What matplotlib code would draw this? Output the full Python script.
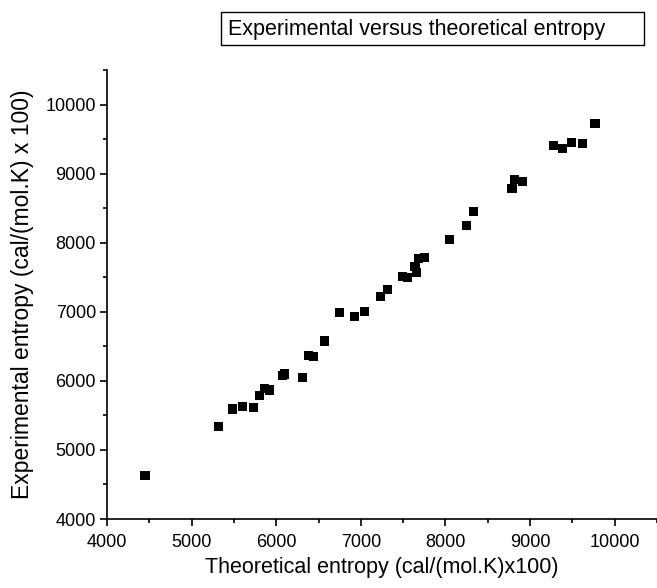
import matplotlib
matplotlib.use("Agg")
import matplotlib.pyplot as plt
from matplotlib.patches import Rectangle
from matplotlib.ticker import MultipleLocator

plt.rcParams['font.family'] = ['Liberation Sans', 'DejaVu Sans']

theoretical = [4450, 5321, 5483, 5601, 5727, 5798, 5865, 5924, 6070, 6100,
               6314, 6377, 6436, 6571, 6752, 6929, 7047, 7233, 7316, 7493,
               7548, 7639, 7658, 7678, 7749, 8052, 8245, 8336, 8786, 8817,
               8912, 9279, 9381, 9487, 9617, 9767]
experimental = [4632, 5336, 5592, 5625, 5616, 5784, 5891, 5867, 6080, 6100,
                6045, 6368, 6349, 6576, 6995, 6927, 7000, 7222, 7323, 7516,
                7497, 7661, 7564, 7772, 7786, 8047, 8254, 8457, 8785, 8915,
                8891, 9412, 9364, 9451, 9436, 9720]

title = "Experimental versus theoretical entropy"
xlabel = "Theoretical entropy (cal/(mol.K)x100)"
ylabel = "Experimental entropy (cal/(mol.K) x 100)"
xticks = [4000, 5000, 6000, 7000, 8000, 9000, 10000]
yticks = [4000, 5000, 6000, 7000, 8000, 9000, 10000]

W, H = 657, 588
fig = plt.figure(figsize=(W / 100, H / 100), dpi=100)
ax = fig.add_axes([107 / W, 1 - 519 / H, 1 - 107 / W, (519 - 70) / H])

ax.scatter(theoretical, experimental, marker='s', s=44, color='black',
           edgecolors='none', zorder=3, clip_on=False)

ax.set_xlim(4000, 10500)
ax.set_ylim(4000, 10500)
ax.set_xticks(xticks)
ax.set_yticks(yticks)
ax.xaxis.set_minor_locator(MultipleLocator(500))
ax.yaxis.set_minor_locator(MultipleLocator(500))
ax.spines['top'].set_visible(False)
ax.spines['right'].set_visible(False)
for s in ['left', 'bottom']:
    ax.spines[s].set_linewidth(1.2)
ax.tick_params(which='major', direction='out', length=5, width=1.2,
               labelsize=13)
ax.tick_params(axis='x', which='major', pad=6)
ax.tick_params(axis='y', which='major', pad=3)
ax.tick_params(which='minor', direction='out', length=3, width=1.2)

ax.set_xlabel(xlabel, fontsize=15.5, labelpad=4)
ax.set_ylabel(ylabel, fontsize=16.5, labelpad=8)

# title box
fig.patches.append(Rectangle((221 / W, 1 - 45 / H), (644 - 221) / W, (45 - 12) / H,
                             transform=fig.transFigure, fill=False,
                             edgecolor='black', linewidth=1.0))
fig.text(228 / W, 1 - 29 / H, title, fontsize=15.5, ha='left', va='center')

fig.savefig("out.png", dpi=100)
